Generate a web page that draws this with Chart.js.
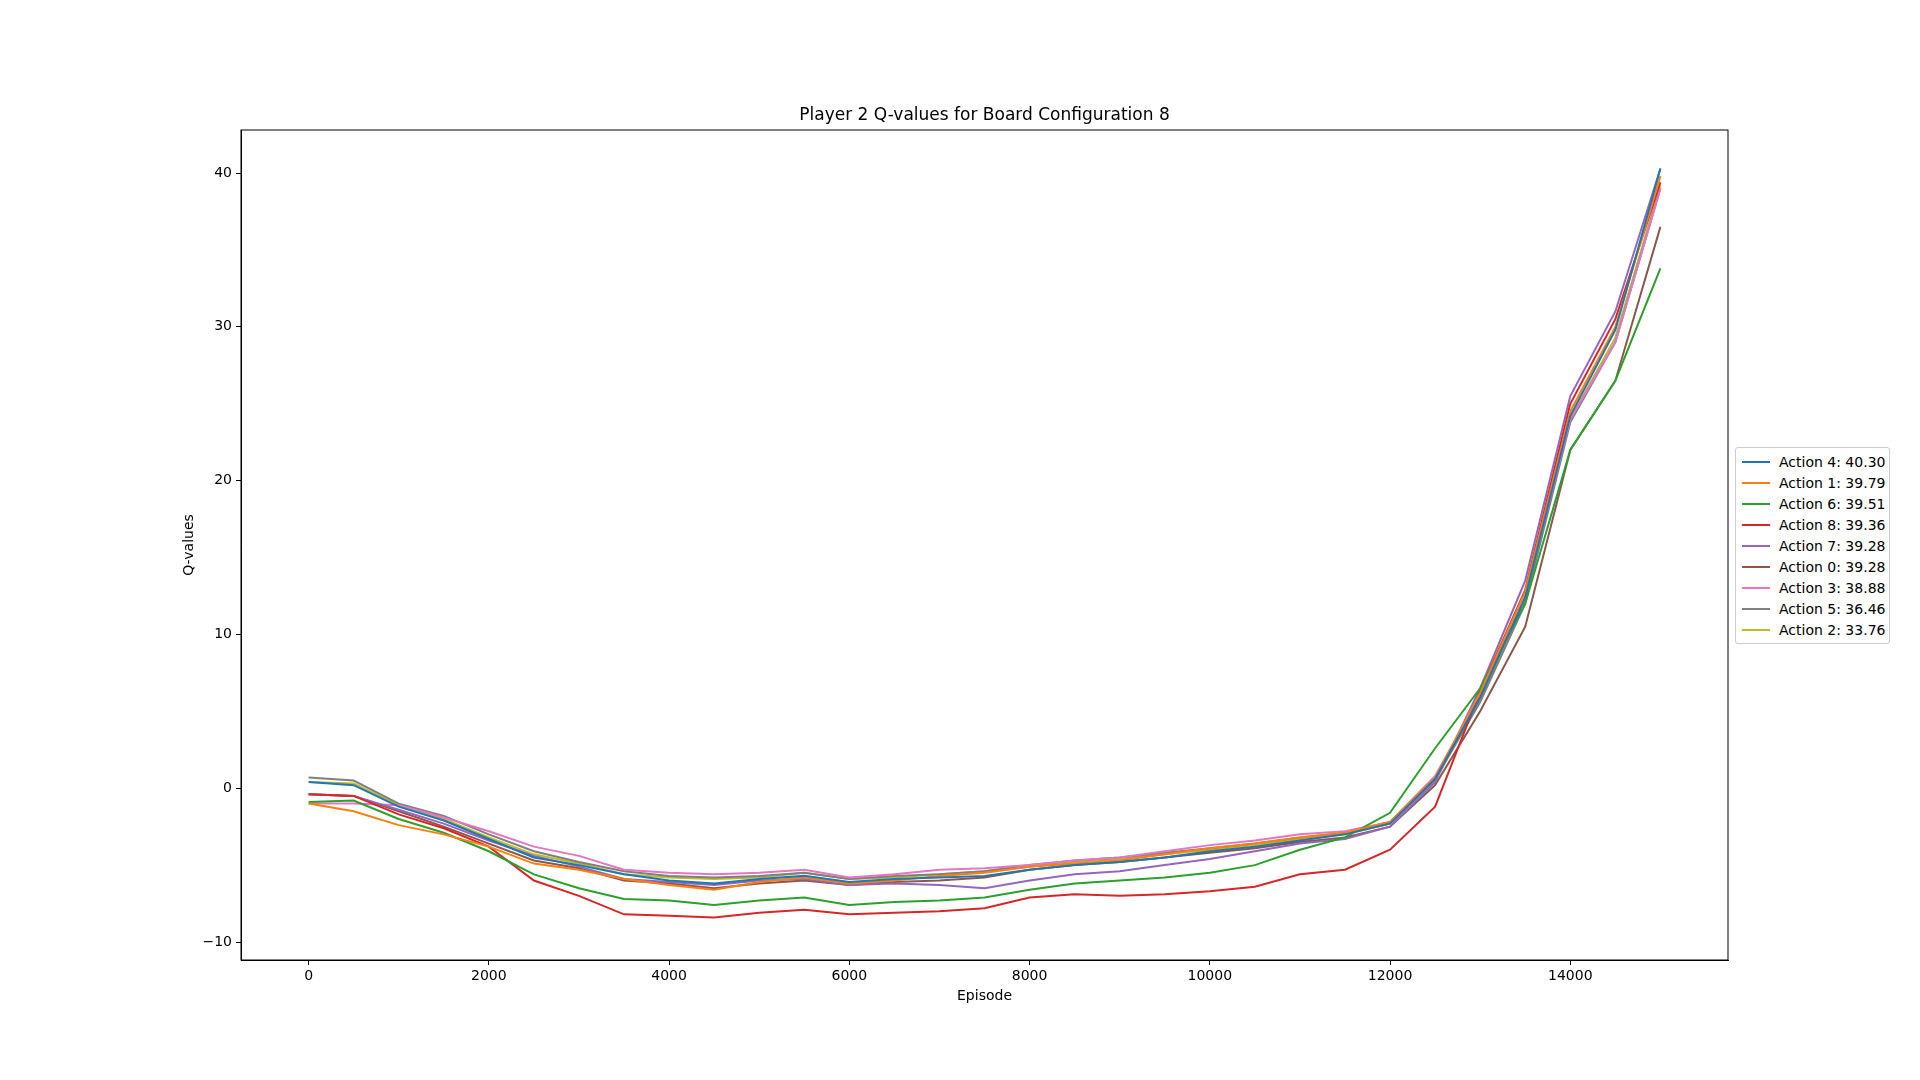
<!DOCTYPE html>
<html>
<head>
<meta charset="utf-8">
<script src="https://cdn.jsdelivr.net/npm/chart.js@4"></script>
<style>
  body { margin: 0; background: #fff; font-family: "DejaVu Sans", sans-serif; }
  #wrap { position: relative; width: 1920px; height: 1080px; }
  #title { position: absolute; top: 104px; left: 241px; width: 1487px; text-align: center; font-size: 17px; color: #000; }
  #legend { position: absolute; left: 1735px; top: 447px; width: 153px; border: 1px solid #ccc; border-radius: 3px; padding: 3px 0 3px 0; font-size: 14px; background: #fff; }
  #legend div { display: flex; align-items: center; height: 21px; padding-left: 6px; }
  #legend span.sw { display: inline-block; width: 28px; height: 2px; margin-right: 9px; }
</style>
</head>
<body>
<div id="wrap">
  <canvas id="chart" width="1920" height="1080"></canvas>
  <div id="title">Player 2 Q-values for Board Configuration 8</div>
  <div id="legend"></div>
</div>
<script>
const episodes = [0,500,1000,1500,2000,2500,3000,3500,4000,4500,5000,5500,6000,6500,7000,7500,8000,8500,9000,9500,10000,10500,11000,11500,12000,12500,13000,13500,14000,14500,15000];
const xTicks = [0, 2000, 4000, 6000, 8000, 10000, 12000, 14000];
const yTicks = [-10, 0, 10, 20, 30, 40];

const labels = ["Action 4: 40.30", "Action 1: 39.79", "Action 6: 39.51", "Action 8: 39.36", "Action 7: 39.28", "Action 0: 39.28", "Action 3: 38.88", "Action 5: 36.46", "Action 2: 33.76"];
const colors = ["#1f77b4", "#ff7f0e", "#2ca02c", "#d62728", "#9467bd", "#8c564b", "#e377c2", "#7f7f7f", "#bcbd22"];

const action4 = [0.4,0.2,-1.2,-2.1,-3.3,-4.5,-5.0,-5.6,-6.0,-6.2,-5.9,-5.7,-6.1,-5.9,-5.8,-5.7,-5.3,-5.0,-4.8,-4.5,-4.1,-3.8,-3.4,-3.0,-2.3,0.6,5.9,12.4,24.2,29.8,40.3];
const action1 = [-1.0,-1.5,-2.4,-3.0,-3.8,-4.9,-5.3,-5.9,-6.3,-6.6,-6.1,-5.8,-6.2,-6.0,-5.7,-5.5,-5.1,-4.9,-4.7,-4.3,-3.9,-3.6,-3.2,-2.9,-2.2,0.7,6.2,12.8,24.5,30.0,39.8];
const action6 = [-0.9,-0.8,-2.0,-2.9,-4.1,-5.6,-6.5,-7.2,-7.3,-7.6,-7.3,-7.1,-7.6,-7.4,-7.3,-7.1,-6.6,-6.2,-6.0,-5.8,-5.5,-5.0,-4.0,-3.2,-1.6,2.6,6.5,12.0,22.0,26.5,33.8];
const action8 = [-0.4,-0.5,-1.7,-2.6,-3.8,-6.0,-7.0,-8.2,-8.3,-8.4,-8.1,-7.9,-8.2,-8.1,-8.0,-7.8,-7.1,-6.9,-7.0,-6.9,-6.7,-6.4,-5.6,-5.3,-4.0,-1.2,6.3,12.9,25.0,30.5,39.4];
const action7 = [-0.4,-0.5,-1.4,-2.3,-3.4,-4.4,-5.1,-5.9,-6.1,-6.3,-6.0,-5.9,-6.3,-6.2,-6.3,-6.5,-6.0,-5.6,-5.4,-5.0,-4.6,-4.1,-3.6,-3.3,-2.5,0.4,6.5,13.5,25.5,31.0,40.3];
const action0 = [-0.4,-0.5,-1.5,-2.5,-3.6,-4.7,-5.2,-6.0,-6.2,-6.5,-6.2,-6.0,-6.3,-6.1,-6.0,-5.8,-5.3,-5.0,-4.8,-4.5,-4.2,-3.9,-3.5,-3.2,-2.5,0.2,5.0,10.5,22.0,26.5,36.5];
const action3 = [-1.0,-1.0,-1.1,-1.9,-2.8,-3.8,-4.4,-5.3,-5.5,-5.6,-5.5,-5.3,-5.8,-5.6,-5.3,-5.2,-5.0,-4.7,-4.5,-4.1,-3.7,-3.4,-3.0,-2.8,-2.2,0.8,6.0,12.5,24.0,29.0,39.0];
const action5 = [0.7,0.5,-1.0,-1.8,-3.0,-4.1,-4.8,-5.4,-5.7,-5.8,-5.7,-5.5,-5.9,-5.7,-5.6,-5.4,-5.0,-4.7,-4.5,-4.2,-3.9,-3.6,-3.2,-2.9,-2.2,0.6,5.6,12.0,23.8,29.0,39.0];
const action2 = [0.4,0.3,-1.1,-2.0,-3.2,-4.3,-4.9,-5.6,-5.8,-5.9,-5.8,-5.5,-5.9,-5.8,-5.6,-5.4,-5.1,-4.8,-4.6,-4.3,-4.0,-3.7,-3.3,-3.0,-2.3,0.5,5.7,12.2,24.0,29.3,39.2];

const series = [action4, action1, action6, action8, action7, action0, action3, action5, action2];

const datasets = series.map((vals, i) => ({
  label: labels[i],
  data: vals.map((v, j) => ({ x: episodes[j], y: v })),
  borderColor: colors[i],
  borderWidth: 2,
  pointRadius: 0,
  tension: 0,
  fill: false
}));

// legend as html
const leg = document.getElementById("legend");
labels.forEach((l, i) => {
  leg.innerHTML += `<div><span class="sw" style="background:${colors[i]}"></span>${l}</div>`;
});

const frame = {
  id: "frame",
  afterDraw(chart) {
    const a = chart.chartArea, c = chart.ctx;
    c.save();
    c.strokeStyle = "#000";
    c.lineWidth = 1;
    c.strokeRect(a.left, a.top, a.right - a.left, a.bottom - a.top);
    c.restore();
  }
};

const tickFont = { family: "DejaVu Sans", size: 14 };

new Chart(document.getElementById("chart").getContext("2d"), {
  type: "line",
  data: { datasets: datasets },
  plugins: [frame],
  options: {
    responsive: false,
    animation: false,
    layout: { padding: { left: 181, right: 192, top: 130, bottom: 75 } },
    plugins: { legend: { display: false }, tooltip: { enabled: false } },
    scales: {
      x: {
        type: "linear",
        min: -750,
        max: 15750,
        afterBuildTicks: s => { s.ticks = xTicks.map(v => ({ value: v })); },
        afterFit: s => { s.height = 45; },
        grid: { drawOnChartArea: false, drawTicks: true, tickLength: 5, color: "#000" },
        border: { color: "#000" },
        ticks: { color: "#000", font: tickFont, padding: 3, maxRotation: 0, callback: v => String(v) },
        title: { display: true, text: "Episode", color: "#000", font: tickFont, padding: 0 }
      },
      y: {
        type: "linear",
        min: -11.17,
        max: 42.8,
        afterBuildTicks: s => { s.ticks = yTicks.map(v => ({ value: v })); },
        afterFit: s => { s.width = 60; },
        grid: { drawOnChartArea: false, drawTicks: true, tickLength: 5, color: "#000" },
        border: { color: "#000" },
        ticks: { color: "#000", font: tickFont, padding: 4, callback: v => v < 0 ? "\u2212" + Math.abs(v) : String(v) },
        title: { display: true, text: "Q-values", color: "#000", font: tickFont, padding: 0 }
      }
    }
  }
});
</script>
</body>
</html>
